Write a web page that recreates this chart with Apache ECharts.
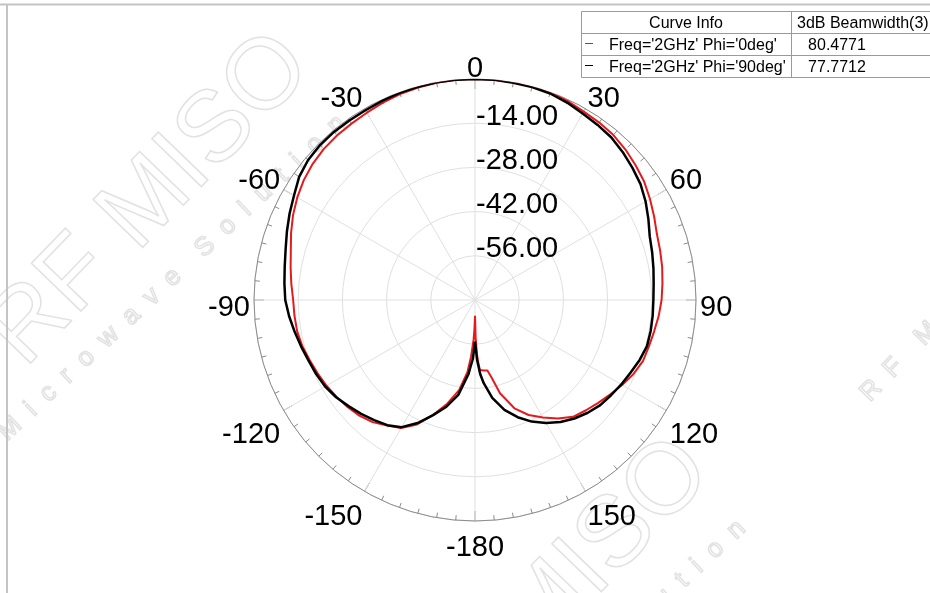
<!DOCTYPE html>
<html><head><meta charset="utf-8">
<script src="https://cdn.jsdelivr.net/npm/echarts@6/dist/echarts.min.js"></script>
<style>html,body{margin:0;padding:0;background:#fff}#c{width:930px;height:593px}</style>
</head><body><div id="c"></div>
<script>
// ---- data (angles in degrees, values in dB) ----
const curveNames = ["Freq='2GHz' Phi='0deg'", "Freq='2GHz' Phi='90deg'"];
const beamwidths = ['80.4771', '77.7712'];
const tableHeader = ['Curve Info', '3dB Beamwidth(3)'];
const radiusTickValues = [-70, -56, -42, -28, -14, 0];

const anglesPhi0 = [-180,-179,-178,-176,-174,-170,-165,-160,-155,-150,-145,-140,-135,-130,-125,-120,-115,-110,-105,-100,-95,-90,-85,-80,-75,-70,-65,-60,-55,-50,-45,-40,-35,-30,-25,-20,-15,-10,-5,0,5,10,15,20,25,30,35,40,45,50,55,60,65,70,75,80,85,90,95,100,105,110,115,120,125,130,135,140,145,150,155,160,165,168,170,173,176,177,178,179,180];
const gainPhi0 = [-65,-61,-57.5,-52,-47,-41,-36,-31.3,-26.5,-23.2,-21.5,-19.5,-18.2,-17.3,-16.5,-15.7,-15.0,-14.3,-13.4,-12.8,-12.6,-12.4,-11.6,-10.7,-9.6,-8.0,-6.4,-5.0,-3.8,-2.9,-2.3,-2.0,-1.8,-1.5,-1.0,-0.6,-0.3,-0.1,0,0,0,0,0,0,-0.5,-1.1,-1.4,-1.8,-2.6,-3.6,-4.6,-6.0,-7.4,-8.7,-9.3,-9.8,-10.4,-10.9,-11.6,-12.4,-13.0,-13.4,-14.6,-16.2,-17.8,-19.2,-20.5,-21.7,-24.2,-27.0,-29.8,-33.5,-39.4,-45,-47.3,-47.5,-47.8,-50,-53,-58,-65];

const anglesPhi90 = [-180,-178,-176,-175,-170,-165,-160,-155,-150,-145,-140,-135,-130,-125,-120,-115,-110,-105,-100,-95,-90,-85,-80,-75,-70,-65,-60,-55,-50,-45,-40,-35,-30,-25,-20,-15,-10,-5,0,5,10,15,20,25,30,35,40,45,50,55,60,65,70,75,80,85,90,95,100,105,110,115,120,125,130,135,140,145,150,155,160,165,170,174,176,178,180];
const gainPhi90 = [-56.8,-51.5,-48.5,-46.5,-39.5,-35,-31.2,-27,-23.5,-21.6,-20.3,-19,-17.7,-16.3,-15.2,-14.5,-13.9,-13,-12,-10.9,-9.9,-9.4,-8.8,-7.9,-6.6,-5.2,-3.8,-2.0,-1.0,-0.6,-0.5,-0.6,-0.6,-0.4,-0.2,-0.1,0,0,0,0,-0.1,-0.2,-0.4,-1.0,-1.8,-2.3,-2.8,-3.8,-4.9,-6.0,-7.6,-9.4,-11.1,-11.9,-12.6,-13.2,-13.5,-13.5,-13.5,-13.6,-14.5,-15.6,-16.5,-17.4,-18.2,-19.5,-21.0,-22.8,-25.0,-27.5,-30.5,-34,-38.5,-43.5,-46.5,-51,-56.8];

const toPolar = (angles, gains) => angles.map((a, i) => [gains[i], (a + 360) % 360]);

const chart = echarts.init(document.getElementById('c'), null, {renderer: 'canvas'});
const FONT = 'Liberation Sans, Arial, sans-serif';
const AX = '#8c8c8c', GRID = '#e0e0e0';
const wm = (text, x, y, deg, size) => ({
  type: 'text', z: -10, x, y, rotation: deg * Math.PI / 180, silent: true,
  style: {text, fontSize: size, fontFamily: FONT, fill: 'none', stroke: '#e2e2e2', lineWidth: 1.5, align: 'center', verticalAlign: 'middle'}
});
const angleFmt = v => v === 360 ? '' : (v === 180 ? '-180' : (v > 180 ? String(v - 360) : String(v)));
const rMin = radiusTickValues[0], rMax = radiusTickValues[radiusTickValues.length - 1];

chart.setOption({
  animation: false,
  backgroundColor: '#fff',
  polar: [
    {center: [475, 300], radius: 221},
    {center: [475, 308], radius: 221}   // label layer (text baseline offset)
  ],
  angleAxis: [
    {polarIndex: 0, type: 'value', min: 0, max: 360, interval: 30, startAngle: 90, clockwise: true,
     axisLine: {lineStyle: {color: AX, width: 1}},
     axisTick: {show: true, inside: true, length: 10, lineStyle: {color: AX}},
     minorTick: {show: true, splitNumber: 6, length: 5, lineStyle: {color: AX}},
     splitLine: {show: true, lineStyle: {color: GRID, width: 1}},
     axisLabel: {show: false}},
    {polarIndex: 1, type: 'value', min: 0, max: 360, interval: 30, startAngle: 90, clockwise: true,
     axisLine: {show: false}, axisTick: {show: false}, minorTick: {show: false}, splitLine: {show: false},
     axisLabel: {fontSize: 29, color: '#000', fontFamily: FONT, margin: 4, formatter: angleFmt}}
  ],
  radiusAxis: [
    {polarIndex: 0, type: 'value', min: rMin, max: rMax, interval: 14,
     axisLine: {show: false}, axisTick: {show: false},
     splitLine: {show: true, lineStyle: {color: GRID, width: 1}},
     axisLabel: {show: false}},
    {polarIndex: 1, type: 'value', min: rMin, max: rMax, interval: 14,
     axisLine: {show: false}, axisTick: {show: false}, splitLine: {show: false},
     axisLabel: {fontSize: 29, color: '#000', fontFamily: FONT, align: 'left', verticalAlign: 'bottom', margin: -1,
       formatter: v => (v === rMin || v === rMax) ? '' : v.toFixed(2)},
     z: 5}
  ],
  series: [
    {type: 'line', coordinateSystem: 'polar', polarIndex: 0, name: curveNames[0], data: toPolar(anglesPhi0, gainPhi0),
     showSymbol: false, symbol: 'none', lineStyle: {color: '#e41a1c', width: 2}, z: 3},
    {type: 'line', coordinateSystem: 'polar', polarIndex: 0, name: curveNames[1], data: toPolar(anglesPhi90, gainPhi90),
     showSymbol: false, symbol: 'none', lineStyle: {color: '#000', width: 2.5}, z: 4}
  ],
  graphic: [
    // watermark
    wm('RF MISO', 150, 200, 46, 100),
    wm('M  i  c  r  o  w  a  v  e    S  o  l  u  t  i  o  n', 172, 278, 43, 26),
    wm('RF MISO', 550, 605, 46, 100),
    wm('M  i  c  r  o  w  a  v  e    S  o  l  u  t  i  o  n', 572, 683, 43, 26),
    wm('R  F    M  I  S  O', 930, 330, 46, 26),
    // frame
    {type: 'line', z: 10, shape: {x1: 0, y1: 4.5, x2: 930, y2: 4.5}, style: {stroke: '#c4c4c4', lineWidth: 2}},
    {type: 'line', z: 10, shape: {x1: 7, y1: 4, x2: 7, y2: 593}, style: {stroke: '#c4c4c4', lineWidth: 2}},
    // table
    {type: 'group', z: 20, children: [
      {type: 'rect', shape: {x: 581.5, y: 11.5, width: 360, height: 66}, style: {fill: '#fff', stroke: '#9a9a9a', lineWidth: 1}},
      {type: 'line', shape: {x1: 581.5, y1: 33.5, x2: 940, y2: 33.5}, style: {stroke: '#9a9a9a', lineWidth: 1}},
      {type: 'line', shape: {x1: 581.5, y1: 55.5, x2: 940, y2: 55.5}, style: {stroke: '#9a9a9a', lineWidth: 1}},
      {type: 'line', shape: {x1: 791.5, y1: 11.5, x2: 791.5, y2: 77.5}, style: {stroke: '#9a9a9a', lineWidth: 1}},
      {type: 'text', x: 686, y: 24, style: {text: tableHeader[0], fontSize: 16, fontFamily: FONT, fill: '#000', align: 'center', verticalAlign: 'middle'}},
      {type: 'text', x: 797, y: 24, style: {text: tableHeader[1], fontSize: 16, fontFamily: FONT, fill: '#000', align: 'left', verticalAlign: 'middle'}},
      {type: 'line', shape: {x1: 585, y1: 43.5, x2: 593, y2: 43.5}, style: {stroke: '#e41a1c', lineWidth: 1}},
      {type: 'line', shape: {x1: 585, y1: 65.5, x2: 593, y2: 65.5}, style: {stroke: '#000', lineWidth: 1}},
      {type: 'text', x: 609, y: 46, style: {text: curveNames[0], fontSize: 16, fontFamily: FONT, fill: '#000', align: 'left', verticalAlign: 'middle'}},
      {type: 'text', x: 609, y: 68, style: {text: curveNames[1], fontSize: 16, fontFamily: FONT, fill: '#000', align: 'left', verticalAlign: 'middle'}},
      {type: 'text', x: 837, y: 46, style: {text: beamwidths[0], fontSize: 16, fontFamily: FONT, fill: '#000', align: 'center', verticalAlign: 'middle'}},
      {type: 'text', x: 837, y: 68, style: {text: beamwidths[1], fontSize: 16, fontFamily: FONT, fill: '#000', align: 'center', verticalAlign: 'middle'}}
    ]}
  ]
});
</script>
</body></html>
